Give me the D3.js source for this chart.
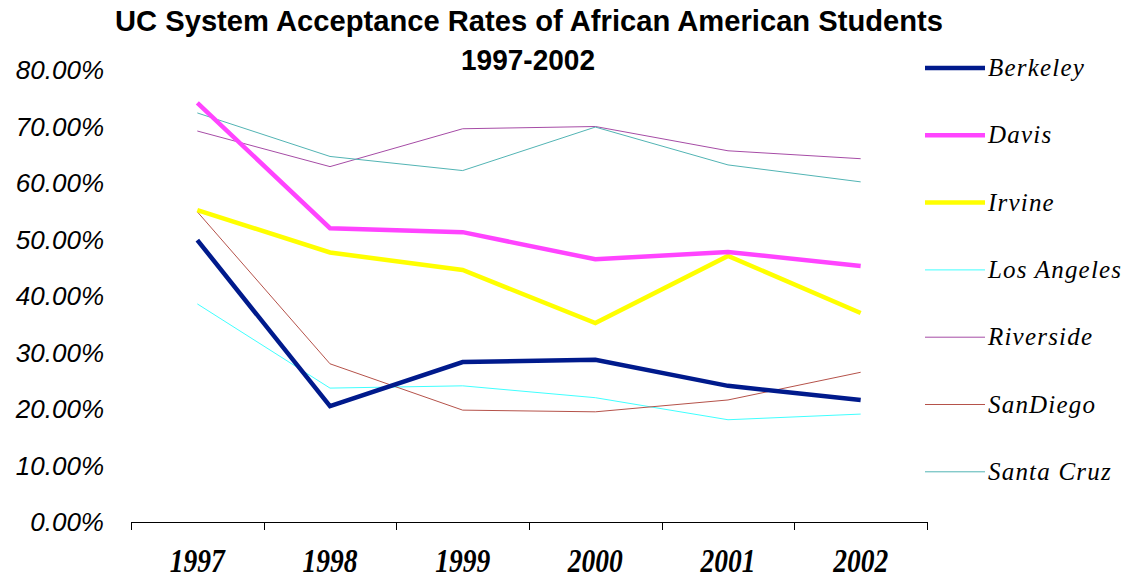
<!DOCTYPE html>
<html>
<head>
<meta charset="utf-8">
<script src="https://cdn.jsdelivr.net/npm/d3@7"></script>
<style>
body { margin: 0; background: #fff; }
</style>
</head>
<body>
<div id="chart"></div>
<script>
let width = 1122,
	height = 581;

// data
let years = ["1997", "1998", "1999", "2000", "2001", "2002"];
let yTicks = [0, 0.1, 0.2, 0.3, 0.4, 0.5, 0.6, 0.7, 0.8];

let berkeley = [0.499, 0.205, 0.283, 0.287, 0.241, 0.216];
let davis = [0.742, 0.520, 0.513, 0.465, 0.478, 0.453];
let irvine = [0.552, 0.477, 0.446, 0.352, 0.471, 0.370];
let losAngeles = [0.386, 0.237, 0.241, 0.220, 0.181, 0.191];
let riverside = [0.692, 0.629, 0.696, 0.700, 0.657, 0.643];
let sanDiego = [0.549, 0.280, 0.198, 0.195, 0.216, 0.265];
let santaCruz = [0.724, 0.647, 0.622, 0.699, 0.632, 0.602];

let campusNames = ["Berkeley", "Davis", "Irvine", "Los Angeles", "Riverside", "SanDiego", "Santa Cruz"];
let campusValues = [berkeley, davis, irvine, losAngeles, riverside, sanDiego, santaCruz];
let campusColors = ["#001a8c", "#ff44ff", "#ffff00", "#40ffff", "#a64ca6", "#b5524a", "#52b4b4"];
let campusWidths = [4.5, 4.5, 4.5, 1, 1, 1, 1];

let series = campusNames.map(function (name, i) {
	return { name: name, values: campusValues[i], color: campusColors[i], w: campusWidths[i] };
});

let svg = d3.select('#chart').append('svg')
	.attr('width', width)
	.attr('height', height);

let x = d3.scaleBand()
	.domain(years)
	.range([131, 927]);

let y = d3.scaleLinear()
	.domain([0, 0.8])
	.range([522, 70]);

// title (condensed look, so squeeze it a bit)
let title = svg.append('text')
	.attr('text-anchor', 'middle')
	.style('font-family', 'Liberation Sans, Arial, sans-serif')
	.style('font-weight', 'bold')
	.style('font-size', '30px');
title.append('tspan').attr('x', 529).attr('y', 31)
	.attr('textLength', 828).attr('lengthAdjust', 'spacingAndGlyphs')
	.text('UC System Acceptance Rates of African American Students');
title.append('tspan').attr('x', 528).attr('y', 70)
	.attr('textLength', 134).attr('lengthAdjust', 'spacingAndGlyphs')
	.text('1997-2002');

// y labels, no axis line
svg.selectAll('.ylab')
	.data(yTicks)
	.enter().append('text').classed('ylab', true)
	.attr('x', 104)
	.attr('y', function (d) { return y(d); })
	.attr('dy', '0.36em')
	.attr('text-anchor', 'end')
	.style('font-family', 'Liberation Sans, Arial, sans-serif')
	.style('font-style', 'italic')
	.style('font-size', '26px')
	.text(function (d) { return d3.format('.2%')(d); });

// x axis: ticks sit on the band edges
let xAxis = svg.append('g').classed('xAxis', true);
xAxis.append('line')
	.attr('x1', x.range()[0]).attr('x2', x.range()[1])
	.attr('y1', y(0) + 0.5).attr('y2', y(0) + 0.5)
	.attr('stroke', '#000').attr('stroke-width', 1);
let edges = years.map(function (d) { return x(d); }).concat([x.range()[1]]);
xAxis.selectAll('.tick')
	.data(edges)
	.enter().append('line').classed('tick', true)
	.attr('x1', function (d) { return Math.round(d) + 0.5; })
	.attr('x2', function (d) { return Math.round(d) + 0.5; })
	.attr('y1', y(0))
	.attr('y2', y(0) + 8)
	.attr('stroke', '#000');
xAxis.selectAll('.xlab')
	.data(years)
	.enter().append('text').classed('xlab', true)
	.attr('x', function (d) { return x(d) + x.bandwidth() / 2; })
	.attr('y', 572)
	.attr('text-anchor', 'middle')
	.attr('textLength', 55)
	.attr('lengthAdjust', 'spacingAndGlyphs')
	.style('font-family', 'Liberation Serif, Times New Roman, serif')
	.style('font-style', 'italic')
	.style('font-weight', 'bold')
	.style('font-size', '33px')
	.text(function (d) { return d; });

// lines, thin ones first
let line = d3.line()
	.x(function (d, i) { return x(years[i]) + x.bandwidth() / 2; })
	.y(function (d) { return y(d); });

let drawOrder = series.slice(3).concat(series.slice(0, 3).reverse());
svg.selectAll('.campus')
	.data(drawOrder)
	.enter().append('path').classed('campus', true)
	.attr('d', function (d) { return line(d.values); })
	.attr('fill', 'none')
	.attr('stroke', function (d) { return d.color; })
	.attr('stroke-width', function (d) { return d.w; })
	.attr('stroke-linejoin', 'miter');

// legend
let legend = svg.selectAll('.legend')
	.data(series)
	.enter().append('g').classed('legend', true)
	.attr('transform', function (d, i) { return 'translate(0,' + (68 + i * 67.3) + ')'; });
legend.append('line')
	.attr('x1', 925).attr('x2', 985)
	.attr('y1', 0).attr('y2', 0)
	.attr('stroke', function (d) { return d.color; })
	.attr('stroke-width', function (d) { return d.w; });
legend.append('text')
	.attr('x', 988)
	.attr('y', 0)
	.attr('dy', '0.32em')
	.style('font-family', 'Liberation Serif, Times New Roman, serif')
	.style('font-style', 'italic')
	.style('font-size', '25px')
	.style('letter-spacing', '1.2px')
	.text(function (d) { return d.name; });
</script>
</body>
</html>
